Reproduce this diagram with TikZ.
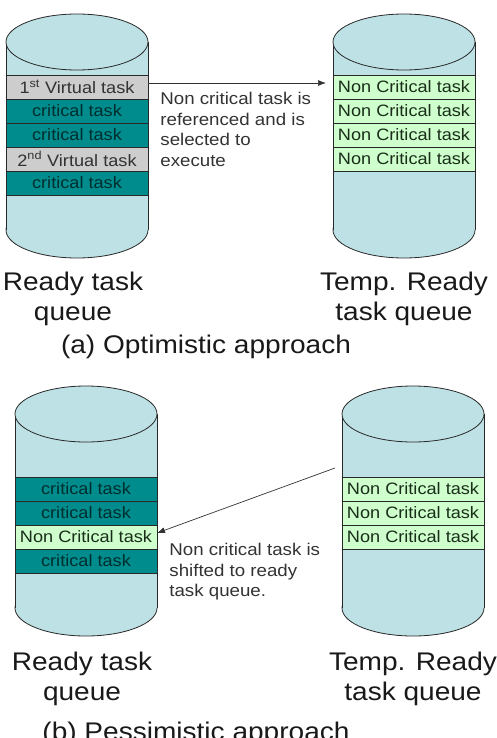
\documentclass[tikz,border=0pt]{standalone}
\usepackage{fontspec}
\setmainfont{Liberation Sans}[FakeStretch=1.1]
\usetikzlibrary{arrows.meta}

\definecolor{tankfill}{RGB}{190,225,229}
\definecolor{tankline}{RGB}{40,40,40}
\definecolor{critfill}{RGB}{0,140,140}
\definecolor{crittext}{RGB}{0,45,45}
\definecolor{virtfill}{RGB}{205,205,205}
\definecolor{virttext}{RGB}{50,50,50}
\definecolor{ncfill}{RGB}{206,255,204}
\definecolor{nctext}{RGB}{25,45,25}

% cylinder: centre x, top ellipse y, bottom ellipse y
\newcommand{\drawtank}[3]{%
  \filldraw[fill=tankfill,draw=tankline] (#1,#3) ellipse [x radius=71,y radius=28];
  \fill[tankfill] (#1-71,#2) rectangle (#1+71,#3);
  \draw[tankline] (#1-71,#2) -- (#1-71,#3) (#1+71,#2) -- (#1+71,#3);
  \filldraw[fill=tankfill,draw=tankline] (#1,#2) ellipse [x radius=71,y radius=28];
}

\tikzset{
  band/.style={draw=tankline, minimum width=142pt, minimum height=24pt, inner sep=0pt,
    outer sep=0pt, font=\fontsize{16.5}{19}\selectfont, node distance=24pt},
  crit/.style={band, fill=critfill, text=crittext},
  virt/.style={band, fill=virtfill, text=virttext},
  ncrit/.style={band, fill=ncfill, text=nctext},
  note/.style={align=left, inner sep=0pt, text=black!80, font=\fontsize{17}{20.5}\selectfont},
  label/.style={align=center, inner sep=0pt, text=black!90, font=\fontsize{25.5}{30}\selectfont},
  arr/.style={-{Latex[length=8pt,width=6pt]}, draw=black!80, line width=0.7pt}
}

\begin{document}
\begin{tikzpicture}[x=1pt,y=-1pt, line width=0.8pt]
  \useasboundingbox (0,0) rectangle (496,738);

  % (a) optimistic
  \drawtank{77}{42}{230}
  \drawtank{404}{42}{230}

  \node (a1) [virt] at (77,87) {1\textsuperscript{st} Virtual task};
  \node (a2) [crit, below of=a1] {critical task};
  \node (a3) [crit, below of=a2] {critical task};
  \node (a4) [virt, below of=a3] {2\textsuperscript{nd} Virtual task};
  \node (a5) [crit, below of=a4] {critical task};

  \node (b1) [ncrit] at (404,87) {Non Critical task};
  \node (b2) [ncrit, below of=b1] {Non Critical task};
  \node (b3) [ncrit, below of=b2] {Non Critical task};
  \node (b4) [ncrit, below of=b3] {Non Critical task};

  \coordinate (tin) at (326,83);
  \draw[arr] ([yshift=4pt]a1.east) -- (tin);
  \node (notea) [note, anchor=north west] at (160,92)
    {Non critical task is\\referenced and is\\selected to\\execute};

  \node (rqa) [label, anchor=north] at (73,272) {Ready task\\queue};
  \node (tqa) [label, anchor=north] at (404,272) {Temp. Ready\\task queue};
  \node (capa) [label, anchor=base] at (206,353) {(a) Optimistic approach};

  % (b) pessimistic
  \drawtank{86}{414}{608}
  \drawtank{413}{414}{608}

  \node (c1) [crit] at (86,489) {critical task};
  \node (c2) [crit, below of=c1] {critical task};
  \node (c3) [ncrit, below of=c2] {Non Critical task};
  \node (c4) [crit, below of=c3] {critical task};

  \node (d1) [ncrit] at (413,489) {Non Critical task};
  \node (d2) [ncrit, below of=d1] {Non Critical task};
  \node (d3) [ncrit, below of=d2] {Non Critical task};

  \coordinate (tout) at (335,468);
  \draw[arr] (tout) -- ([yshift=4pt]c3.east);
  \node (noteb) [note, anchor=north west] at (169,543)
    {Non critical task is\\shifted to ready\\task queue.};

  \node (rqb) [label, anchor=north] at (82,652) {Ready task\\queue};
  \node (tqb) [label, anchor=north] at (413,652) {Temp. Ready\\task queue};
  \node (capb) [label, anchor=base] at (196,740) {(b) Pessimistic approach};
\end{tikzpicture}
\end{document}
